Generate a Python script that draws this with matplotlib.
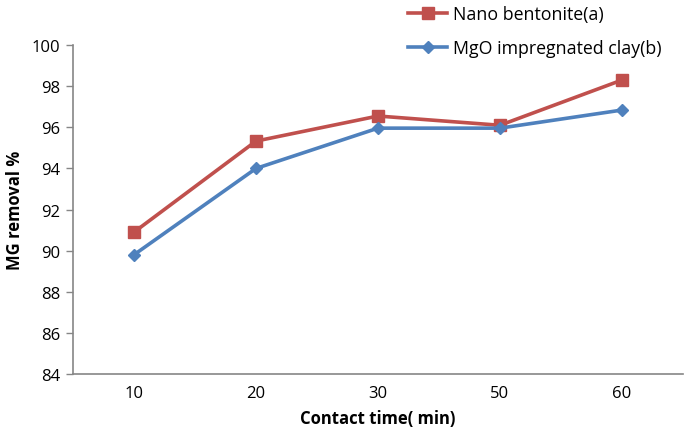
import matplotlib
matplotlib.use("Agg")
import matplotlib.pyplot as plt

categories = ["10", "20", "30", "50", "60"]
nano_bentonite = [90.9, 95.33, 96.55, 96.1, 98.3]
mgo_clay = [89.8, 94.0, 95.96, 95.96, 96.84]
yticks = [84, 86, 88, 90, 92, 94, 96, 98, 100]

plt.rcParams['font.family'] = ['Open Sans', 'DejaVu Sans']

fig = plt.figure(figsize=(6.85, 4.35), dpi=100)
ax = fig.add_axes([0.1066, 0.138, 0.8904, 0.756])

x = list(range(len(categories)))
red = '#C0504D'
blue = '#4F81BD'
l1, = ax.plot(x, nano_bentonite, color=red, lw=2.6, marker='s', ms=8.5, label='Nano bentonite(a)', zorder=3)
l2, = ax.plot(x, mgo_clay, color=blue, lw=2.6, marker='D', ms=6.5, label='MgO impregnated clay(b)', zorder=4)

ax.set_xlim(-0.5, len(categories) - 0.5)
ax.set_ylim(84, 100)
ax.set_xticks(x)
ax.set_xticklabels(categories)
ax.set_yticks(yticks)
ax.set_yticklabels([str(v) for v in yticks])
ax.tick_params(axis='x', length=0, pad=8, labelsize=12, colors='#000000')
ax.tick_params(axis='y', length=5, width=1, color='#868686', labelsize=12, pad=4)
for s in ['top', 'right']:
    ax.spines[s].set_visible(False)
for s in ['left', 'bottom']:
    ax.spines[s].set_color('#868686')
    ax.spines[s].set_linewidth(1.2)

ax.set_xlabel('Contact time( min)', fontsize=12, fontweight='bold', labelpad=6)
ax.set_ylabel('MG removal %', fontsize=12, fontweight='bold', labelpad=6)

fig.legend(handles=[l1, l2], loc='upper left', bbox_to_anchor=(0.5956, 0.986),
           frameon=False, fontsize=12.8, handlelength=2.2, handletextpad=0.35,
           labelspacing=0.9, borderaxespad=0, borderpad=0)

fig.savefig('out.png', dpi=100)
